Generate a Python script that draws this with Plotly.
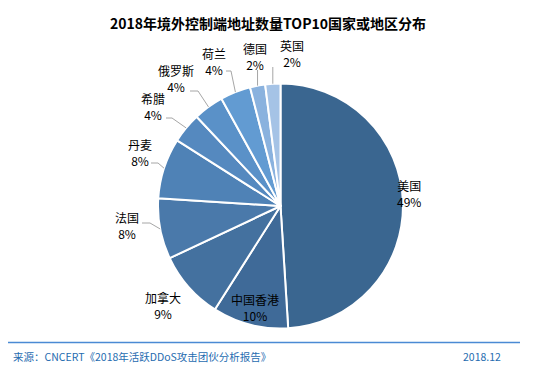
import math
import plotly.graph_objects as go

labels = ["美国", "中国香港", "加拿大", "法国", "丹麦", "希腊", "俄罗斯", "荷兰", "德国", "英国"]
values = [49, 10, 9, 8, 8, 4, 4, 4, 2, 2]
colors = ["#3a6690", "#3f6a98", "#44719f", "#4a79aa", "#4f82b6", "#5589bf",
          "#5a91c8", "#629bd2", "#8ab2de", "#a5c3e6"]

title_text = "2018年境外控制端地址数量TOP10国家或地区分布"
source_text = "来源：CNCERT《2018年活跃DDoS攻击团伙分析报告》"
date_text = "2018.12"

# label placement (page pixels): centre x, centre y of the two-line block
label_pos = {
    "美国": (409, 193), "中国香港": (255, 307), "加拿大": (163, 305),
    "法国": (127, 225), "丹麦": (140, 152), "希腊": (153, 107),
    "俄罗斯": (176, 79), "荷兰": (214, 61), "德国": (255, 56), "英国": (292, 54),
}
# leader lines: (start x, start y, elbow x) in page pixels; None = no leader
leaders = {
    "法国": (142, 223, 150), "丹麦": (151, 163, 158), "希腊": (166, 118, 172),
    "俄罗斯": (190, 91, 198), "荷兰": (226, 71, 231), "德国": None, "英国": None,
}
vertical_leaders = {"德国": 70, "英国": 67}

OFF = 8  # browser body margin
W, H = 536 - 2 * OFF, 379 - 2 * OFF
font = "Microsoft YaHei, Noto Sans CJK SC, sans-serif"


def px(x):
    return (x - OFF) / W


def py(y):
    return 1 - (y - OFF) / H


cx, cy, r = 280.5, 206.0, 122.5

fig = go.Figure(go.Pie(
    labels=labels,
    values=values,
    sort=False,
    direction="clockwise",
    rotation=0,
    marker=dict(colors=colors, line=dict(color="white", width=2)),
    textinfo="none",
    automargin=False,
    domain=dict(x=[px(cx - r), px(cx + r)], y=[py(cy + r), py(cy - r)]),
    showlegend=False,
    hoverinfo="label+percent",
))

total = sum(values)
annotations = []
shapes = []
cum = 0
for lab, v in zip(labels, values):
    mid = (cum + v / 2) / total * 2 * math.pi
    cum += v
    ex = cx + r * math.sin(mid)
    ey = cy - r * math.cos(mid)
    lx, ly = label_pos[lab]
    pct = round(v / total * 100)
    annotations.append(dict(
        text=f"{lab}<br>{pct}%", x=px(lx), y=py(ly), xref="paper", yref="paper",
        showarrow=False, align="center", xanchor="center", yanchor="middle",
        font=dict(family=font, size=12, color="#000000")))
    line_style = dict(color="#a6a6a6", width=1)
    if lab in leaders and leaders[lab] is not None:
        sx, sy, elx = leaders[lab]
        shapes.append(dict(type="line", xref="paper", yref="paper",
                           x0=px(sx), y0=py(sy), x1=px(elx), y1=py(sy), line=line_style))
        shapes.append(dict(type="line", xref="paper", yref="paper",
                           x0=px(elx), y0=py(sy), x1=px(ex), y1=py(ey), line=line_style))
    if lab in vertical_leaders:
        sy = vertical_leaders[lab]
        shapes.append(dict(type="line", xref="paper", yref="paper",
                           x0=px(ex), y0=py(sy), x1=px(ex), y1=py(ey), line=line_style))

annotations += [
    dict(text="<b>" + title_text + "</b>", x=px(268), y=py(23), xref="paper", yref="paper",
         showarrow=False, font=dict(family=font, size=14, color="#000000"),
         xanchor="center", yanchor="middle"),
    dict(text=source_text, x=px(11), y=py(356), xref="paper", yref="paper",
         showarrow=False, font=dict(family=font, size=10.5, color="#1f6cb0"),
         xanchor="left", yanchor="middle"),
    dict(text=date_text, x=px(503), y=py(356), xref="paper", yref="paper",
         showarrow=False, font=dict(family=font, size=10.5, color="#1f6cb0"),
         xanchor="right", yanchor="middle"),
]
shapes.append(dict(type="line", xref="paper", yref="paper", x0=px(8), x1=px(520),
                   y0=py(342.5), y1=py(342.5), line=dict(color="#4a8ad4", width=1.5)))

fig.update_layout(
    width=W, height=H,
    margin=dict(l=0, r=0, t=0, b=0),
    paper_bgcolor="white",
    plot_bgcolor="white",
    annotations=annotations,
    shapes=shapes,
)

fig.write_html("out.html")
